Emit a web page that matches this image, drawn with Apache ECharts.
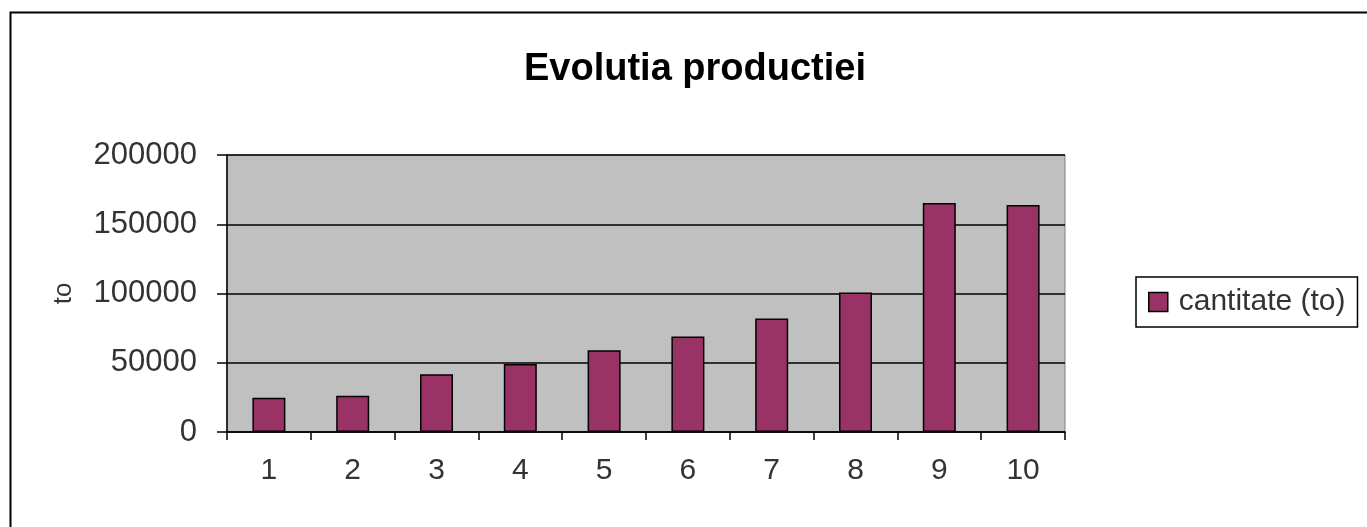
<!DOCTYPE html>
<html>
<head>
<meta charset="utf-8">
<script src="https://cdn.jsdelivr.net/npm/echarts@6/dist/echarts.min.js"></script>
<style>
html,body{margin:0;padding:0;background:#fff;}
#c{width:1367px;height:527px;}
</style>
</head>
<body>
<div id="c"></div>
<script>
const categories = ['1','2','3','4','5','6','7','8','9','10'];
const values = [24700, 26100, 41700, 49100, 59000, 69000, 82000, 100700, 165400, 163900];
const seriesName = 'cantitate (to)';
const chartTitle = 'Evolutia productiei';
const yAxisName = 'to';

const chart = echarts.init(document.getElementById('c'), null, {renderer: 'canvas'});
const font = '"Liberation Sans", Arial, sans-serif';
chart.setOption({
  animation: false,
  backgroundColor: '#fff',
  title: {
    text: chartTitle,
    left: 690, top: 46, textAlign: 'center',
    textStyle: {fontFamily: font, fontSize: 38, fontWeight: 'bold', color: '#000'}
  },
  graphic: [{
    type: 'rect', left: 8, top: 10,
    shape: {width: 1370, height: 530},
    style: {fill: 'none', stroke: '#000', lineWidth: 2},
    silent: true
  }],
  legend: {
    left: 1136, top: 277,
    padding: [10, 12, 10, 12],
    borderColor: '#000', borderWidth: 1.5,
    itemWidth: 19, itemHeight: 19, itemGap: 4,
    icon: 'rect',
    data: [{name: seriesName, itemStyle: {color: '#993366', borderColor: '#000', borderWidth: 1.5}}],
    textStyle: {fontFamily: font, fontSize: 30, color: '#333', padding: [0,0,0,6]}
  },
  grid: {left: 227, right: 302, top: 155, bottom: 95, show: true, backgroundColor: '#C0C0C0', borderColor: '#808080', borderWidth: 1},
  xAxis: {
    type: 'category', data: categories,
    axisLine: {lineStyle: {color: '#000', width: 1.5}},
    axisTick: {show: true, length: 8, lineStyle: {color: '#000', width: 1.5}},
    axisLabel: {fontFamily: font, fontSize: 30, color: '#333', margin: 24}
  },
  yAxis: {
    type: 'value', min: 0, max: 200000, interval: 50000,
    name: yAxisName, nameLocation: 'middle', nameGap: 150, nameRotate: 90,
    nameTextStyle: {fontFamily: font, fontSize: 26, color: '#333'},
    axisLine: {show: true, lineStyle: {color: '#000', width: 1.5}},
    axisTick: {show: true, length: 10, lineStyle: {color: '#000', width: 1.5}},
    axisLabel: {fontFamily: font, fontSize: 31, color: '#333', margin: 30, formatter: v => String(v)},
    splitLine: {show: true, lineStyle: {color: '#000', width: 1.5}}
  },
  series: [{
    name: seriesName, type: 'bar', data: values,
    barWidth: 33,
    itemStyle: {color: '#993366', borderColor: '#000', borderWidth: 1.5}
  }]
});
</script>
</body>
</html>
